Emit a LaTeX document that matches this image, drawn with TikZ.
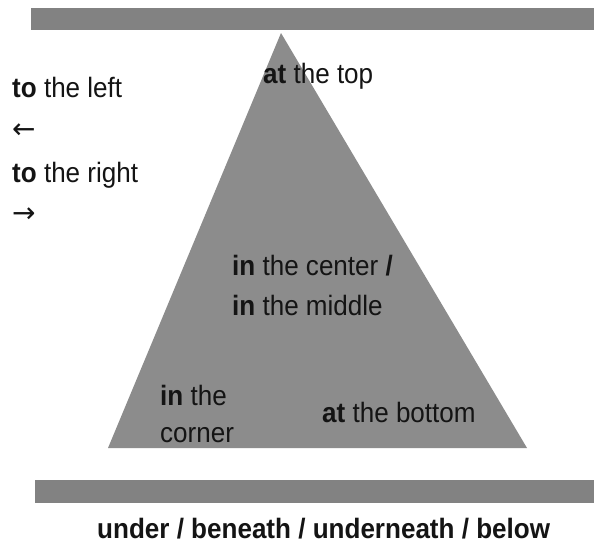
\documentclass[tikz,border=0pt]{standalone}
\usepackage{fontspec}
\setmainfont{Liberation Sans}[FakeStretch=0.93]
\newfontfamily\arrowfont{DejaVu Sans}
\definecolor{trigray}{RGB}{140,140,140}
\definecolor{bargray}{RGB}{130,130,130}
\definecolor{ink}{RGB}{20,20,20}
\begin{document}
\begin{tikzpicture}[x=1pt,y=-1pt,
  lbl/.style={anchor=base west,inner sep=0pt,text=ink,font=\fontsize{28}{32}\selectfont},
  arr/.style={anchor=base west,inner sep=0pt,text=ink,font=\arrowfont\fontsize{28}{32}\selectfont},
  bar/.style={fill=bargray,draw=none}]
\useasboundingbox (0,0) rectangle (594,546);
\fill[white] (0,0) rectangle (594,546);
% bars
\path[bar] (31,8) rectangle (594,30);
\path[bar] (35,480) rectangle (594,503);
% triangle
\coordinate (apex) at (281,33);
\coordinate (bl) at (108,448);
\coordinate (br) at (527,448);
\fill[trigray] (apex) -- (bl) -- (br) -- cycle;
% labels
\node[lbl] (left) at (12,97) {\textbf{to} the left};
\node[arr] (larr) at (12,138) {←};
\node[lbl] (right) at (12,182) {\textbf{to} the right};
\node[arr] (rarr) at (12,222) {→};
\node[lbl] (top) at (263,83) {\textbf{at} the top};
\node[lbl] (center) at (232,275) {\textbf{in} the center \textbf{/}};
\node[lbl] (middle) at (232,315) {\textbf{in} the middle};
\node[lbl] (inthe) at (160,405) {\textbf{in} the};
\node[lbl] (corner) at (160,442) {corner};
\node[lbl] (bottom) at (322,422) {\textbf{at} the bottom};
\node[lbl,font=\fontsize{28}{32}\selectfont\bfseries] (under) at (97,538) {under / beneath / underneath / below};
\end{tikzpicture}
\end{document}
